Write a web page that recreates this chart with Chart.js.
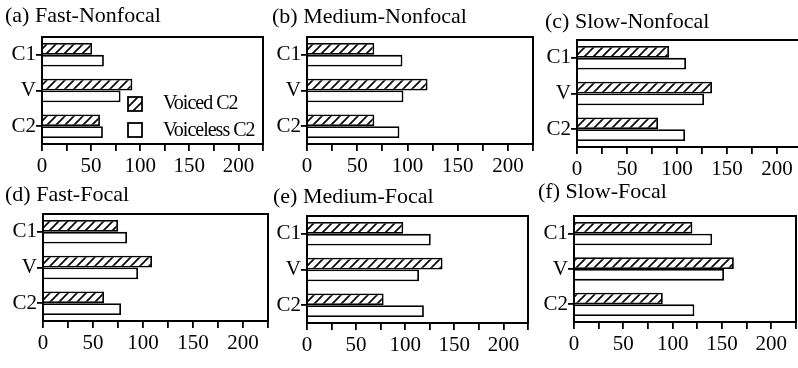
<!DOCTYPE html>
<html lang="en">
  <head>
    <meta charset="UTF-8" />
    <title>Durations</title>
    <style>
      body { margin: 0; background: #fff; }
      #wrap { position: relative; width: 798px; height: 368px; overflow: hidden; background: #fff; }
      #wrap canvas { position: absolute; }
    </style>
  </head>
  <body>
    <div id="wrap"></div>
    <script src="https://cdn.jsdelivr.net/npm/chart.js"></script>
    <script>
      const categories = ['C1', 'V', 'C2'];
      const xTickLabels = [0, 50, 100, 150, 200];

      const voicedFastNonfocal = [51, 92, 59];
      const voicelessFastNonfocal = [63, 80, 62];
      const voicedMediumNonfocal = [67, 120, 67];
      const voicelessMediumNonfocal = [95, 96, 92];
      const voicedSlowNonfocal = [92, 135, 81];
      const voicelessSlowNonfocal = [109, 127, 108];
      const voicedFastFocal = [75, 109, 61];
      const voicelessFastFocal = [84, 95, 78];
      const voicedMediumFocal = [98, 138, 78];
      const voicelessMediumFocal = [126, 114, 119];
      const voicedSlowFocal = [120, 162, 90];
      const voicelessSlowFocal = [140, 152, 122];

      const serif = 'Liberation Serif';

      // diagonal hatch for the voiced bars
      const makeHatch = () => {
        const c = document.createElement('canvas');
        c.width = 9;
        c.height = 9;
        const g = c.getContext('2d');
        g.fillStyle = '#fff';
        g.fillRect(0, 0, 9, 9);
        g.strokeStyle = '#000';
        g.lineWidth = 1.6;
        g.beginPath();
        g.moveTo(-1, 10); g.lineTo(10, -1);
        g.moveTo(-1, 1); g.lineTo(1, -1);
        g.moveTo(8, 10); g.lineTo(10, 8);
        g.stroke();
        return g.createPattern(c, 'repeat');
      };
      const hatch = makeHatch();

      const framePlugin = {
        id: 'frame',
        afterDraw(chart) {
          const { ctx, chartArea: a } = chart;
          ctx.save();
          ctx.strokeStyle = '#000';
          ctx.lineWidth = 2;
          ctx.strokeRect(a.left, a.top, a.right - a.left, a.bottom - a.top);
          ctx.restore();
        },
      };

      // panel caption, placed freely (may sit left or right of the tick labels)
      const captionPlugin = {
        id: 'caption',
        afterDraw(chart, args, opts) {
          const ctx = chart.ctx;
          ctx.save();
          ctx.fillStyle = '#000';
          ctx.font = '22px "' + serif + '"';
          ctx.textBaseline = 'middle';
          ctx.fillText(opts.text, opts.x, opts.y);
          ctx.restore();
        },
      };

      const legendPlugin = {
        id: 'innerLegend',
        afterDraw(chart) {
          const { ctx, chartArea: a } = chart;
          ctx.save();
          ctx.lineWidth = 1.8;
          ctx.strokeStyle = '#000';
          ctx.fillStyle = hatch;
          ctx.fillRect(a.left + 86, a.top + 60, 14, 14);
          ctx.strokeRect(a.left + 86, a.top + 60, 14, 14);
          ctx.fillStyle = '#fff';
          ctx.fillRect(a.left + 86, a.top + 86, 14, 14);
          ctx.strokeRect(a.left + 86, a.top + 86, 14, 14);
          ctx.fillStyle = '#000';
          ctx.font = '20px "' + serif + '"';
          ctx.letterSpacing = '-1px';
          ctx.textBaseline = 'middle';
          ctx.fillText('Voiced C2', a.left + 121, a.top + 67);
          ctx.fillText('Voiceless C2', a.left + 121, a.top + 94);
          ctx.restore();
        },
      };

      const panels = [
        { title: '(a) Fast-Nonfocal', voiced: voicedFastNonfocal, voiceless: voicelessFastNonfocal, l: 42, t: 37, r: 263, b: 144, tx: 5, ty: 16, legend: true },
        { title: '(b) Medium-Nonfocal', voiced: voicedMediumNonfocal, voiceless: voicelessMediumNonfocal, l: 307, t: 37, r: 533, b: 144, tx: 272, ty: 17 },
        { title: '(c) Slow-Nonfocal', voiced: voicedSlowNonfocal, voiceless: voicelessSlowNonfocal, l: 577, t: 40, r: 802, b: 147, tx: 545, ty: 22 },
        { title: '(d) Fast-Focal', voiced: voicedFastFocal, voiceless: voicelessFastFocal, l: 43, t: 214, r: 268, b: 321, tx: 5, ty: 195 },
        { title: '(e) Medium-Focal', voiced: voicedMediumFocal, voiceless: voicelessMediumFocal, l: 307, t: 216, r: 528, b: 323, tx: 273, ty: 197 },
        { title: '(f) Slow-Focal', voiced: voicedSlowFocal, voiceless: voicelessSlowFocal, l: 574, t: 216, r: 796, b: 322, tx: 538, ty: 192 },
      ];

      const wrap = document.getElementById('wrap');

      panels.forEach((p) => {
        const cl = Math.min(p.tx, p.l - 40) - 2;
        const ct = p.ty - 15;
        const yWidth = p.l - cl;
        const xHeight = 40;
        const cw = p.r - cl + 4;
        const ch = p.b - ct + xHeight;

        const canvas = document.createElement('canvas');
        canvas.width = cw;
        canvas.height = ch;
        canvas.style.left = cl + 'px';
        canvas.style.top = ct + 'px';
        wrap.appendChild(canvas);

        new Chart(canvas, {
          type: 'bar',
          data: {
            labels: categories,
            datasets: [
              { label: 'Voiced C2', data: p.voiced, backgroundColor: hatch, borderColor: '#000', borderWidth: 1.8 },
              { label: 'Voiceless C2', data: p.voiceless, backgroundColor: '#fff', borderColor: '#000', borderWidth: 1.8 },
            ],
          },
          options: {
            indexAxis: 'y',
            responsive: false,
            animation: false,
            barPercentage: 1,
            categoryPercentage: 0.66,
            layout: { padding: { left: 0, right: 4, top: p.t - ct, bottom: 0 } },
            plugins: {
              legend: { display: false },
              tooltip: { enabled: false },
              title: { display: false },
              caption: { text: p.title, x: p.tx - cl, y: p.ty - ct },
            },
            scales: {
              x: {
                min: 0,
                max: 225,
                afterFit: (s) => { s.height = xHeight; },
                border: { display: false },
                grid: { drawOnChartArea: false, tickLength: 7, color: '#000', lineWidth: 1.8 },
                ticks: {
                  stepSize: 25,
                  autoSkip: false,
                  maxRotation: 0,
                  padding: 3,
                  color: '#000',
                  font: { family: serif, size: 21 },
                  callback: (v) => (xTickLabels.includes(v) ? v : ''),
                },
              },
              y: {
                afterFit: (s) => { s.width = yWidth; },
                border: { display: false },
                grid: { drawOnChartArea: false, offset: false, tickLength: 6, color: '#000', lineWidth: 1.8 },
                ticks: { padding: 0, color: '#000', font: { family: serif, size: 21 } },
              },
            },
          },
          plugins: p.legend ? [framePlugin, captionPlugin, legendPlugin] : [framePlugin, captionPlugin],
        });
      });
    </script>
  </body>
</html>
